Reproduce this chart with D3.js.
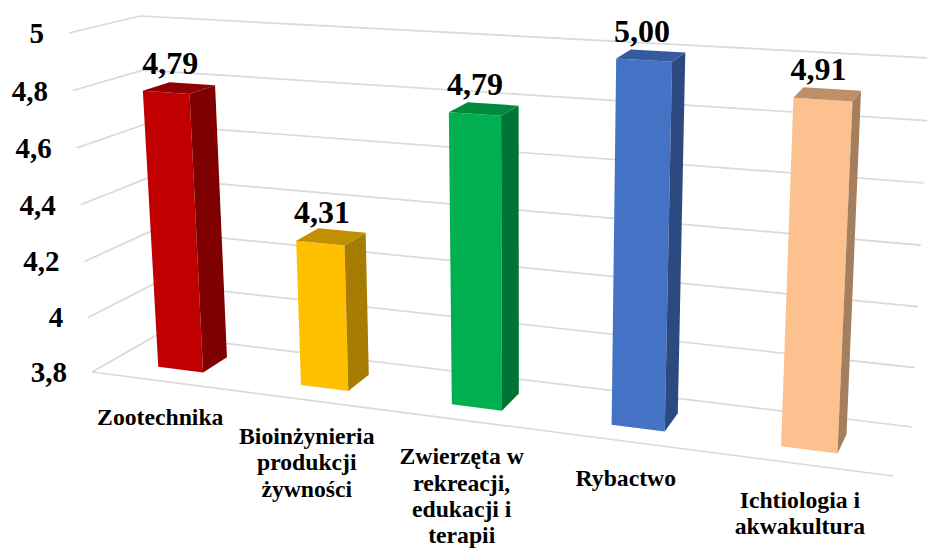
<!DOCTYPE html>
<html>
<head>
<meta charset="utf-8">
<script src="https://cdn.jsdelivr.net/npm/d3@7"></script>
<style>
  html, body { margin: 0; background: #fff; overflow: hidden; }
  text { font-family: "Liberation Serif", serif; font-weight: bold; fill: #000; }
</style>
</head>
<body>
<svg class="chart" width="927" height="549"></svg>
<script>
// Chart values
var categories = ["Zootechnika", "Bioinżynieria produkcji żywności", "Zwierzęta w rekreacji, edukacji i terapii", "Rybactwo", "Ichtiologia i akwakultura"];
var values = [4.79, 4.31, 4.79, 5.00, 4.91];
var valueLabels = ["4,79", "4,31", "4,79", "5,00", "4,91"];
var yTicks = [3.8, 4, 4.2, 4.4, 4.6, 4.8, 5];
var yTickLabels = ["3,8", "4", "4,2", "4,4", "4,6", "4,8", "5"];
var labelLines = [["Zootechnika"], ["Bioinżynieria", "produkcji", "żywności"], ["Zwierzęta w", "rekreacji,", "edukacji i", "terapii"], ["Rybactwo"], ["Ichtiologia i", "akwakultura"]];

var frontColors = ["#C00000", "#FFC000", "#00B050", "#4472C4", "#FCC18E"];
var sideColors = ["#7F0000", "#A67D00", "#007434", "#2C4A80", "#A47E5D"];
var topColors = ["#8F0000", "#C09000", "#008A3E", "#345AA0", "#BE9069"];

var svg = d3.select(".chart");

// Corners of the 3D box on the screen: front plane and back plane
var box = {
    front: {bl: [92, 372], br: [893, 476], tl: [69, 33], tr: [913, 84]},
    back: {bl: [157, 335], br: [912, 427], tl: [140, 16], tr: [930, 58]}
};

// Scales
var x = d3.scaleBand().domain(categories).range([0, 1]).paddingInner(0.68).paddingOuter(0.34);
var y = d3.scalePow().exponent(1.02).domain([0, 1.2]).range([0, 1]); // height above 3.8
var depthFront = 0.3, depthBack = 0.7;
var foreshorten = 1.155; // right side of the box is closer to the viewer

// Project (t along categories, value, depth) to the screen
function project(t, value, depth) {
    var u = t / (t + foreshorten * (1 - t)),
        v = y(value - 3.8);
    function plane(p, i) {
        var bottom = d3.interpolateNumber(p.bl[i], p.br[i])(u),
            top = d3.interpolateNumber(p.tl[i], p.tr[i])(u);
        return d3.interpolateNumber(bottom, top)(v);
    }
    return [0, 1].map(function(i) {
        return d3.interpolateNumber(plane(box.front, i), plane(box.back, i))(depth);
    });
}

var line = d3.line();

function addFace(points, color) {
    svg.append("path")
        .attr("d", line(points) + "Z")
        .attr("fill", color);
}

// Gridlines
yTicks.forEach(function(tick) {
    svg.append("path")
        .attr("d", line([project(0, tick, 0), project(0, tick, 1), project(1, tick, 1)]))
        .attr("fill", "none")
        .attr("stroke", "#d9d9d9")
        .attr("stroke-width", 1.7);
});
svg.append("path")
    .attr("d", line([project(0, 3.8, 0), project(1, 3.8, 0)]))
    .attr("stroke", "#d9d9d9")
    .attr("stroke-width", 1.7);

// Y axis labels
yTicks.forEach(function(tick, i) {
    var p = project(0, tick, 0);
    svg.append("text")
        .attr("x", p[0] - 25)
        .attr("y", p[1] + 10)
        .attr("text-anchor", "end")
        .attr("font-size", 29)
        .text(yTickLabels[i]);
});

// Bars
categories.forEach(function(category, i) {
    var t0 = x(category),
        t1 = t0 + x.bandwidth(),
        value = values[i];

    addFace([project(t0, 3.8, depthFront), project(t1, 3.8, depthFront), project(t1, value, depthFront), project(t0, value, depthFront)], frontColors[i]);
    addFace([project(t1, 3.8, depthFront), project(t1, 3.8, depthBack), project(t1, value, depthBack), project(t1, value, depthFront)], sideColors[i]);
    addFace([project(t0, value, depthFront), project(t1, value, depthFront), project(t1, value, depthBack), project(t0, value, depthBack)], topColors[i]);

    // Value label
    var top = project((t0 + t1) / 2, value, 0.5);
    svg.append("text")
        .attr("x", top[0] - 9)
        .attr("y", top[1] - 14)
        .attr("text-anchor", "middle")
        .attr("font-size", 32)
        .text(valueLabels[i]);

    // Category label
    var foot = project((t0 + t1) / 2, 3.8, 0);
    var label = svg.append("text")
        .attr("text-anchor", "middle")
        .attr("font-size", 23.7);
    labelLines[i].forEach(function(part, lineIdx) {
        label.append("tspan")
            .attr("x", foot[0] - 2)
            .attr("y", foot[1] + 44 + lineIdx * 26.3)
            .text(part);
    });
});
</script>
</body>
</html>
